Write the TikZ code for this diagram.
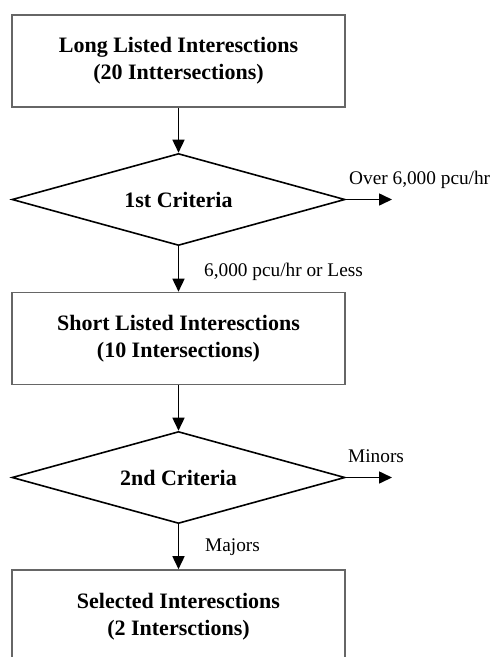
\documentclass[tikz,border=0pt]{standalone}
\usepackage{fontspec}
\setmainfont{Liberation Serif}
\usetikzlibrary{shapes.geometric,arrows.meta}
\begin{document}
\begin{tikzpicture}[x=1pt,y=1pt,
  boxnode/.style={draw=black!60,line width=1.6pt,rectangle,minimum width=333pt,minimum height=92pt,inner sep=0pt,align=center,font=\fontsize{22}{27}\selectfont\bfseries},
  decnode/.style={draw=black,line width=1.6pt,diamond,aspect=3.6,minimum width=333pt,minimum height=92pt,inner sep=0pt,font=\fontsize{22}{27}\selectfont\bfseries},
  flow/.style={line width=1.6pt,-{Triangle[length=13pt,width=12pt]}},
  lbl/.style={anchor=west,inner sep=0pt,font=\fontsize{19.3}{23}\selectfont}]
\clip (0,0) rectangle (498,-657);
\node[boxnode] (b1) at (178.5,-61) {Long Listed Interesctions\\(20 Inttersections)};
\node[decnode] (d1) at (178.5,-199.5) {1st Criteria};
\node[boxnode] (b2) at (178.5,-338.5) {Short Listed  Interesctions\\(10 Intersections)};
\node[decnode] (d2) at (178.5,-477.5) {2nd Criteria};
\node[boxnode,minimum height=93pt] (b3) at (178.5,-616.5) {Selected Interesctions\\(2 Intersctions)};
\coordinate (o1) at (392,-199.5);
\coordinate (o2) at (392,-477.5);
\draw[flow] (b1.south) -- (d1.north);
\draw[flow] (d1.south) -- (b2.north);
\draw[flow] (d1.east) -- (o1);
\draw[flow] (b2.south) -- (d2.north);
\draw[flow] (d2.south) -- (b3.north);
\draw[flow] (d2.east) -- (o2);
\node[lbl] (l1) at (349,-180) {Over 6,000 pcu/hr};
\node[lbl] (l2) at (204,-272) {6,000 pcu/hr or Less};
\node[lbl] (l3) at (348,-456) {Minors};
\node[lbl] (l4) at (205,-547) {Majors};
\end{tikzpicture}
\end{document}
